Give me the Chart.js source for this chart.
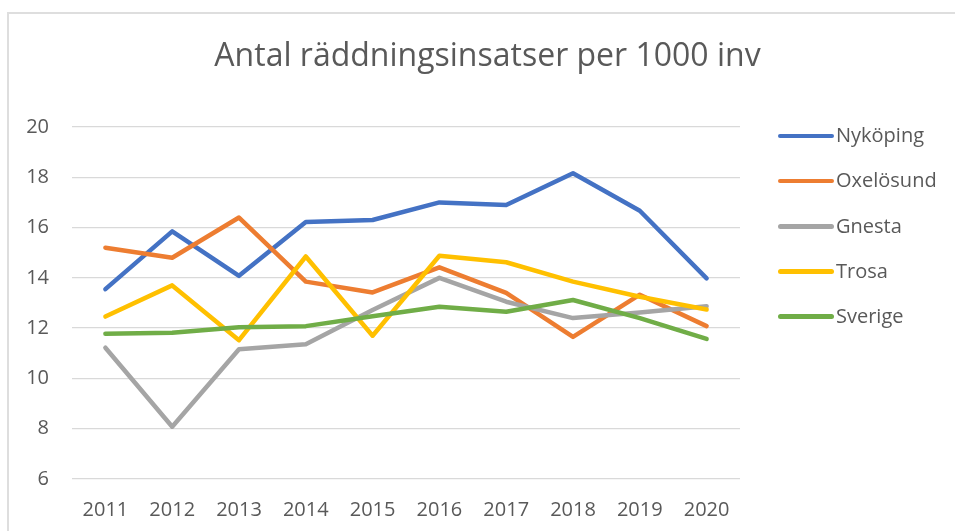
<!DOCTYPE html>
<html>
<head>
<meta charset="utf-8">
<script src="https://cdn.jsdelivr.net/npm/chart.js@4"></script>
<style>
  html, body { margin: 0; padding: 0; background: #fff; overflow: hidden; }
  #wrap { position: relative; width: 955px; height: 531px; font-family: "Open Sans", sans-serif; color: #595959; }
  #frame { position: absolute; left: 7px; top: 12px; width: 960px; height: 530px; border-top: 2px solid #dedede; border-left: 2px solid #dedede; }
  #title { position: absolute; left: 0; top: 35px; width: 975px; text-align: center; font-size: 32px; line-height: 38px; white-space: nowrap; }
  .item { position: absolute; left: 778px; height: 24px; font-size: 20px; line-height: 24px; white-space: nowrap; }
  .item i { position: absolute; left: 0; top: 10.5px; width: 56px; height: 4.5px; border-radius: 2.5px; }
  .item span { position: absolute; left: 58px; top: 0; }
  canvas { position: absolute; left: 0; top: 0; }
</style>
</head>
<body>
<div id="wrap">
  <div id="frame"></div>
  <canvas id="chart" width="955" height="531"></canvas>
  <div id="title">Antal räddningsinsatser per 1000 inv</div>
  <div id="legend"></div>
</div>
<script>
// värden
const years = ['2011', '2012', '2013', '2014', '2015', '2016', '2017', '2018', '2019', '2020'];
const nykoping  = [13.55, 15.85, 14.08, 16.22, 16.30, 17.00, 16.90, 18.16, 16.67, 13.98];
const oxelosund = [15.20, 14.80, 16.40, 13.85, 13.42, 14.42, 13.40, 11.65, 13.33, 12.08];
const gnesta    = [11.22, 8.08, 11.16, 11.36, 12.72, 14.00, 13.05, 12.40, 12.62, 12.87];
const trosa     = [12.46, 13.70, 11.52, 14.85, 11.70, 14.88, 14.62, 13.85, 13.25, 12.74];
const sverige   = [11.78, 11.82, 12.04, 12.08, 12.47, 12.85, 12.65, 13.12, 12.40, 11.57];
const yTicks = [6, 8, 10, 12, 14, 16, 18, 20];

const names  = ['Nyköping', 'Oxelösund', 'Gnesta', 'Trosa', 'Sverige'];
const values = [nykoping, oxelosund, gnesta, trosa, sverige];
const colors = ['#4472C4', '#ED7D31', '#A5A5A5', '#FFC000', '#70AD47'];

const datasets = names.map((n, i) => ({
  label: n,
  data: values[i],
  borderColor: colors[i],
  backgroundColor: colors[i],
  borderWidth: 4.5,
  borderCapStyle: 'round',
  borderJoinStyle: 'round',
  pointRadius: 0,
  tension: 0,
  order: names.length - i   // senare serie ritas ovanpå, som i Excel
}));

const tickFont = { family: '"Open Sans", sans-serif', size: 20 };

new Chart(document.getElementById('chart').getContext('2d'), {
  type: 'line',
  data: { labels: years, datasets },
  options: {
    responsive: false,
    animation: false,
    layout: { padding: { left: 20, top: 127, right: 215, bottom: 0 } },
    plugins: { legend: { display: false }, title: { display: false }, tooltip: { enabled: false } },
    scales: {
      x: {
        offset: true,
        afterFit: s => { s.height = 52; },
        grid: { display: false, drawTicks: false },
        border: { display: false },
        ticks: { color: '#595959', font: tickFont, padding: 19, maxRotation: 0 }
      },
      y: {
        min: yTicks[0],
        max: yTicks[yTicks.length - 1],
        afterFit: s => { s.width = 52; },
        grid: { color: '#d9d9d9', lineWidth: 1.3, drawTicks: false },
        border: { display: false },
        ticks: { stepSize: 2, color: '#595959', font: tickFont, padding: 23 }
      }
    }
  }
});

// förklaring till höger
const legend = document.getElementById('legend');
names.forEach((n, i) => {
  const row = document.createElement('div');
  row.className = 'item';
  row.style.top = (123.3 + i * 45.1) + 'px';
  row.innerHTML = '<i style="background:' + colors[i] + '"></i><span>' + n + '</span>';
  legend.appendChild(row);
});
</script>
</body>
</html>
